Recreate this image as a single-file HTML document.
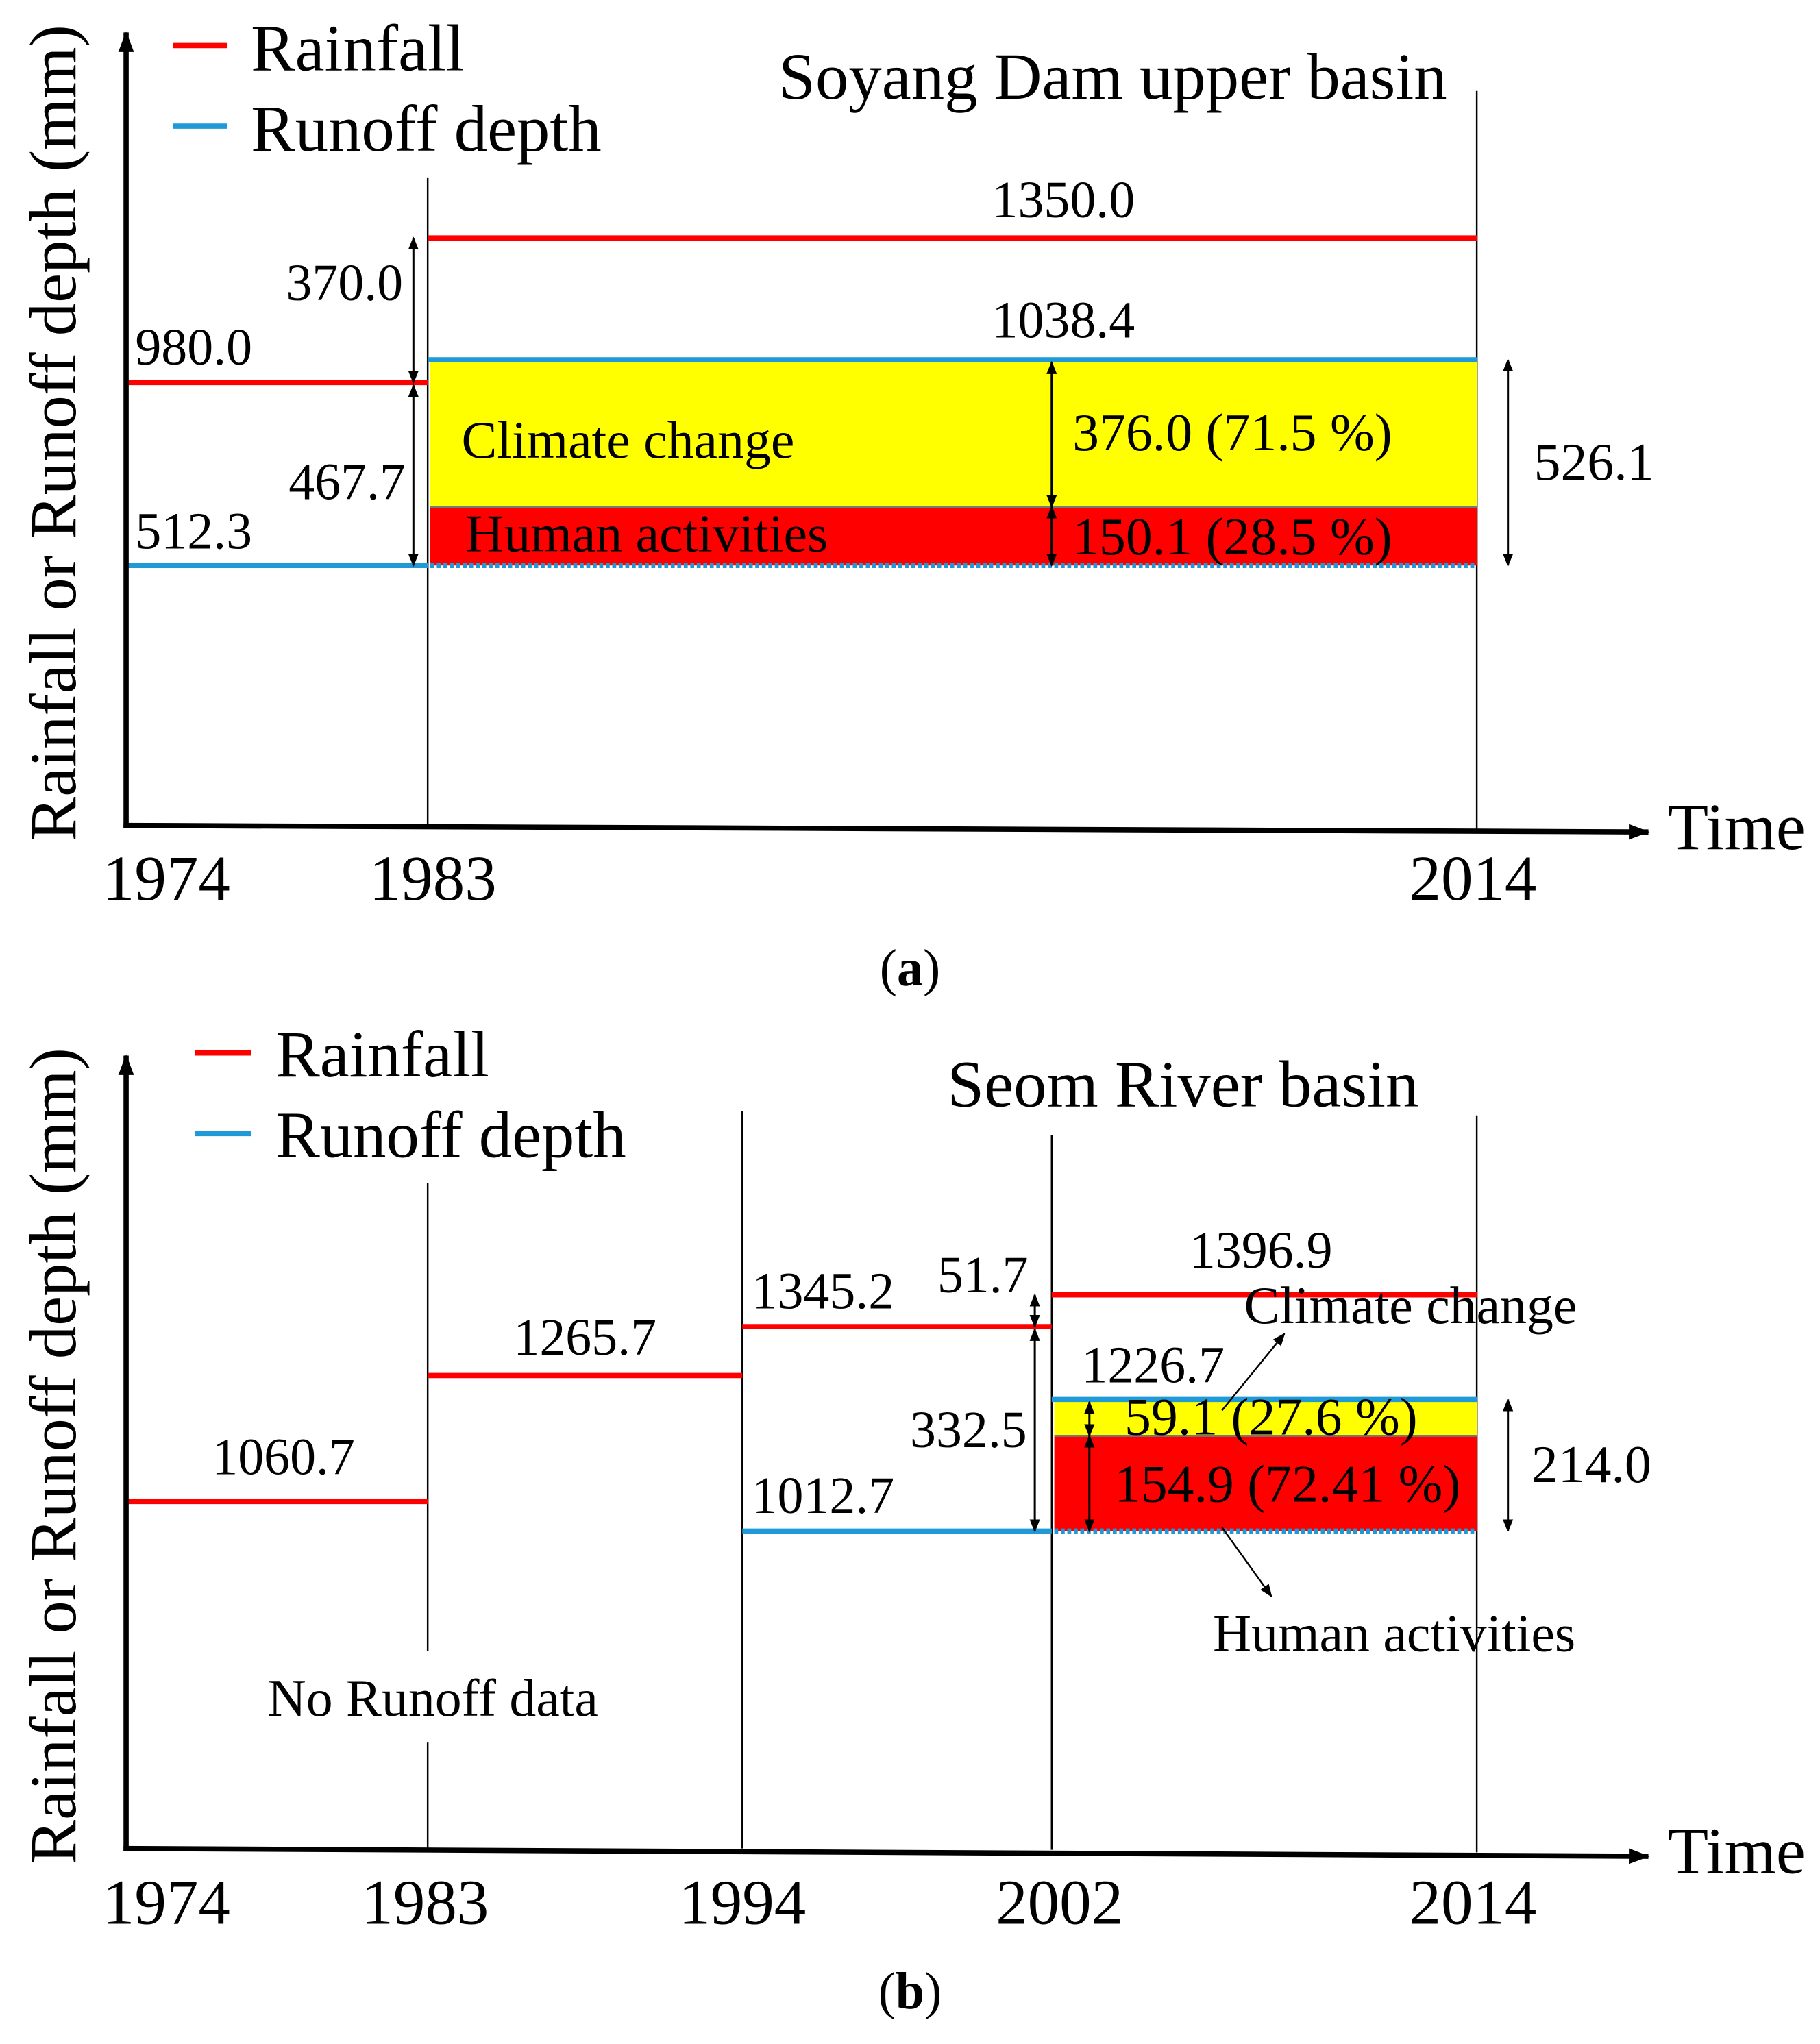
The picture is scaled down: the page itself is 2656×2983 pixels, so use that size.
<!DOCTYPE html>
<html><head><meta charset="utf-8"><style>
html,body{margin:0;padding:0;background:#fff}
svg{display:block}
text{font-family:"Liberation Serif",serif;fill:#000}
</style></head><body>
<svg id="fig" width="2656" height="2983" viewBox="0 0 1400 1572.4" xmlns="http://www.w3.org/2000/svg">
<defs>
<marker id="ah" markerWidth="10" markerHeight="10" refX="9" refY="5" orient="auto-start-reverse" markerUnits="userSpaceOnUse"><path d="M0,1 L10,5 L0,9 Z" fill="#000"/></marker>
<marker id="axh" markerWidth="16" markerHeight="14" refX="15" refY="7" orient="auto" markerUnits="userSpaceOnUse"><path d="M0,1 L16,7 L0,13 Z" fill="#000"/></marker>
</defs>
<g id="pa"></g>
<g id="pb"></g>
</svg>
<script>
// Panel (a) data
const aRainValues = [980.0, 1350.0];
const aRainLabels = ["980.0", "1350.0"];
const aRunoffValues = [512.3, 1038.4];
const aRunoffLabels = ["512.3", "1038.4"];
const aYears = ["1974", "1983", "2014"];
const aClimate = 376.0, aHuman = 150.1;
const aClimateLabel = "376.0 (71.5 %)", aHumanLabel = "150.1 (28.5 %)";
const aRainDiff = "370.0", aGap = "467.7", aTotal = "526.1";
// Panel (b) data
const bRainValues = [1060.7, 1265.7, 1345.2, 1396.9];
const bRainLabels = ["1060.7", "1265.7", "1345.2", "1396.9"];
const bRunoffValues = [1012.7, 1226.7];
const bRunoffLabels = ["1012.7", "1226.7"];
const bYears = ["1974", "1983", "1994", "2002", "2014"];
const bClimate = 59.1, bHuman = 154.9;
const bClimateLabel = "59.1 (27.6 %)", bHumanLabel = "154.9 (72.41 %)";
const bRainDiff = "51.7", bGap = "332.5", bTotal = "214.0";

const NS = "http://www.w3.org/2000/svg";
const FA = 40, FB = 41, FL = 51, FY = 49;
function mk(parent, tag, attrs, txt){
  const e = document.createElementNS(NS, tag);
  for (const k in attrs) e.setAttribute(k, attrs[k]);
  if (txt !== undefined) e.textContent = txt;
  parent.appendChild(e);
  return e;
}
function line(g,x1,y1,x2,y2,stroke,w,name,extra){
  const e = mk(g,'line',Object.assign({x1,y1,x2,y2,stroke,'stroke-width':w},extra||{}));
  
  
  return e;
}
function txt(g,x,y,s,size,name,anchor){
  const e = mk(g,'text',{x,y,'font-size':size,'text-anchor':anchor||'start'},s);
  
  
  return e;
}
function darrow(g,x,y1,y2,name){
  return line(g,x,y1,x,y2,'#000',1.6,name,{'marker-start':'url(#ah)','marker-end':'url(#ah)'});
}
const RED="#ff0000", BLUE="#1f9ad6", YEL="#ffff00";

// ---------- Panel A ----------
(function(){
  const g = document.getElementById('pa');
  const y = v => 435 + (512.3 - v) * (435-183)/(1350-512.3);
  line(g,133,35,175,35,RED,4,'legend-rainfall-swatch');
  txt(g,193,54,'Rainfall',FL,'legend-rainfall-label');
  line(g,133,97,175,97,BLUE,4,'legend-runoff-swatch');
  txt(g,193,116,'Runoff depth',FL,'legend-runoff-label');
  txt(g,856,76,'Soyang Dam upper basin',FL,'chart-title-a','middle');
  line(g,329,137,329,635,'#000',1.3,'divider-1983');
  line(g,1136,70,1136,638,'#000',1.3,'divider-2014');
  const yHi = y(aRunoffValues[1]), yMid = y(aRunoffValues[0]+aHuman), yLo = y(aRunoffValues[0]);
  let r = mk(g,'rect',{x:331,y:yHi,width:805,height:yMid-yHi,fill:YEL});
   
  r = mk(g,'rect',{x:331,y:yMid,width:805,height:yLo-yMid,fill:RED});
   
  line(g,331,yMid,1136,yMid,'#777',1.5,'box-divider');
  line(g,331,yLo,1136,yLo,BLUE,4,'runoff-baseline-dotted',{'stroke-dasharray':'3,2'});
  line(g,97,y(aRainValues[0]),329,y(aRainValues[0]),RED,4,'rainfall-1974-1983');
  line(g,329,y(aRainValues[1]),1136,y(aRainValues[1]),RED,4,'rainfall-1983-2014');
  line(g,97,y(aRunoffValues[0]),329,y(aRunoffValues[0]),BLUE,4,'runoff-1974-1983');
  line(g,329,y(aRunoffValues[1]),1136,y(aRunoffValues[1]),BLUE,4,'runoff-1983-2014');
  txt(g,104,y(aRainValues[0])-14,aRainLabels[0],FA,'rainfall-label-1974');
  txt(g,818,y(aRainValues[1])-16,aRainLabels[1],FA,'rainfall-label-1983','middle');
  txt(g,104,y(aRunoffValues[0])-13,aRunoffLabels[0],FA,'runoff-label-1974');
  txt(g,818,y(aRunoffValues[1])-17,aRunoffLabels[1],FA,'runoff-label-1983','middle');
  darrow(g,318,y(aRainValues[1]),y(aRainValues[0]),'rainfall-diff-arrow');
  txt(g,310,231,aRainDiff,FA,'rainfall-diff-label','end');
  darrow(g,318,y(aRainValues[0])+2,yLo,'rain-runoff-gap-arrow');
  txt(g,312,384,aGap,FA,'rain-runoff-gap-label','end');
  txt(g,355,352,'Climate change',FB,'climate-change-label');
  txt(g,358,424,'Human activities',FB,'human-activities-label');
  darrow(g,809,yHi+2,yMid,'climate-arrow');
  txt(g,825,(yHi+yMid)/2+13,aClimateLabel,FB,'climate-value-label');
  darrow(g,809,yMid,yLo,'human-arrow');
  txt(g,825,(yMid+yLo)/2+14,aHumanLabel,FB,'human-value-label');
  darrow(g,1160,yHi,yLo,'total-change-arrow');
  txt(g,1180,(yHi+yLo)/2+13,aTotal,FB,'total-change-label');
  line(g,97,637,97,25,'#000',4,'y-axis-a',{'marker-end':'url(#axh)'});
  line(g,95,635,1268,640,'#000',4,'x-axis-a',{'marker-end':'url(#axh)'});
  txt(g,1283,653,'Time',FL,'x-axis-title-a');
  const yt = txt(g,0,0,'Rainfall or Runoff depth (mm)',FL,'y-axis-title-a','middle');
  yt.setAttribute('transform','translate(58,333) rotate(-90)');
  const yearX=[128,333,1133];
  aYears.forEach((s,i)=>txt(g,yearX[i],692,s,FY,'x-tick-'+s,'middle'));
  const cap = txt(g,700,758,'',40,'caption-a','middle');
  cap.innerHTML='(<tspan font-weight="bold">a</tspan>)';
})();

// ---------- Panel B ----------
(function(){
  const g = document.getElementById('pb');
  const y = v => 1080.7 - 0.473*(v-1218.0);
  const xb = [97,329,571,809,1136];
  line(g,150,810,193,810,RED,4,'legend-rainfall-swatch-b');
  txt(g,212,828,'Rainfall',FL,'legend-rainfall-label-b');
  line(g,150,872,193,872,BLUE,4,'legend-runoff-swatch-b');
  txt(g,212,890,'Runoff depth',FL,'legend-runoff-label-b');
  txt(g,910,851,'Seom River basin',FL,'chart-title-b','middle');
  line(g,329,910,329,1270,'#000',1.3,'divider-1983-top');
  line(g,329,1340,329,1422,'#000',1.3,'divider-1983-bottom');
  line(g,571,855,571,1422,'#000',1.3,'divider-1994');
  line(g,809,873,809,1423,'#000',1.3,'divider-2002');
  line(g,1136,858,1136,1425,'#000',1.3,'divider-2014-b');
  const yHi=y(bRunoffValues[1]), yLo=y(bRunoffValues[0]), yMid=y(bRunoffValues[0]+bHuman);
  let r = mk(g,'rect',{x:811,y:yHi,width:325,height:yMid-yHi,fill:YEL});
   
  r = mk(g,'rect',{x:811,y:yMid,width:325,height:yLo-yMid,fill:RED});
   
  line(g,811,yMid,1136,yMid,'#777',1.5,'box-divider-b');
  line(g,811,yLo,1136,yLo,BLUE,4,'runoff-baseline-dotted-b',{'stroke-dasharray':'3,2'});
  bRainValues.forEach((v,i)=>{
    line(g,xb[i],y(v),xb[i+1],y(v),RED,4,'rainfall-segment-'+i);
  });
  line(g,571,yLo,809,yLo,BLUE,4,'runoff-1994-2002');
  line(g,809,yHi,1136,yHi,BLUE,4,'runoff-2002-2014');
  txt(g,218,y(bRainValues[0])-21,bRainLabels[0],FA,'rainfall-label-0','middle');
  txt(g,450,y(bRainValues[1])-16,bRainLabels[1],FA,'rainfall-label-1','middle');
  txt(g,578,y(bRainValues[2])-14,bRainLabels[2],FA,'rainfall-label-2');
  txt(g,970,y(bRainValues[3])-21,bRainLabels[3],FA,'rainfall-label-3','middle');
  txt(g,578,yLo-14,bRunoffLabels[0],FA,'runoff-label-0');
  txt(g,832,yHi-13,bRunoffLabels[1],FA,'runoff-label-1');
  darrow(g,796,y(bRainValues[3]),y(bRainValues[2]),'rainfall-diff-arrow-b');
  txt(g,791,y(bRainValues[3])-2,bRainDiff,FA,'rainfall-diff-label-b','end');
  darrow(g,796,y(bRainValues[2])+2,yLo,'rain-runoff-gap-arrow-b');
  txt(g,790,(y(bRainValues[2])+yLo)/2+14,bGap,FA,'rain-runoff-gap-label-b','end');
  darrow(g,838,yHi+2,yMid,'climate-arrow-b');
  txt(g,865,(yHi+yMid)/2+13,bClimateLabel,FB,'climate-value-label-b');
  darrow(g,838,yMid,yLo,'human-arrow-b');
  txt(g,857,(yMid+yLo)/2+14,bHumanLabel,FB,'human-value-label-b');
  darrow(g,1160,yHi,yLo,'total-change-arrow-b');
  txt(g,1178,(yHi+yLo)/2+13,bTotal,FB,'total-change-label-b');
  txt(g,957,1018,'Climate change',FB,'climate-change-label-b');
  line(g,940,1085,988,1026,'#000',1.3,'climate-pointer',{'marker-end':'url(#ah)'});
  txt(g,933,1270,'Human activities',FB,'human-activities-label-b');
  line(g,940,1175,978,1228,'#000',1.3,'human-pointer',{'marker-end':'url(#ah)'});
  txt(g,333,1320,'No Runoff data',FB,'no-runoff-data-label','middle');
  line(g,97,1424,97,812,'#000',4,'y-axis-b',{'marker-end':'url(#axh)'});
  line(g,95,1422,1268,1428,'#000',4,'x-axis-b',{'marker-end':'url(#axh)'});
  txt(g,1283,1441,'Time',FL,'x-axis-title-b');
  const yt = txt(g,0,0,'Rainfall or Runoff depth (mm)',FL,'y-axis-title-b','middle');
  yt.setAttribute('transform','translate(58,1120) rotate(-90)');
  const yearX=[128,327,571,815,1133];
  bYears.forEach((s,i)=>txt(g,yearX[i],1480,s,FY,'x-tick-b-'+s,'middle'));
  const cap = txt(g,700,1545,'',40,'caption-b','middle');
  cap.innerHTML='(<tspan font-weight="bold">b</tspan>)';
})();
</script>
</body></html>
